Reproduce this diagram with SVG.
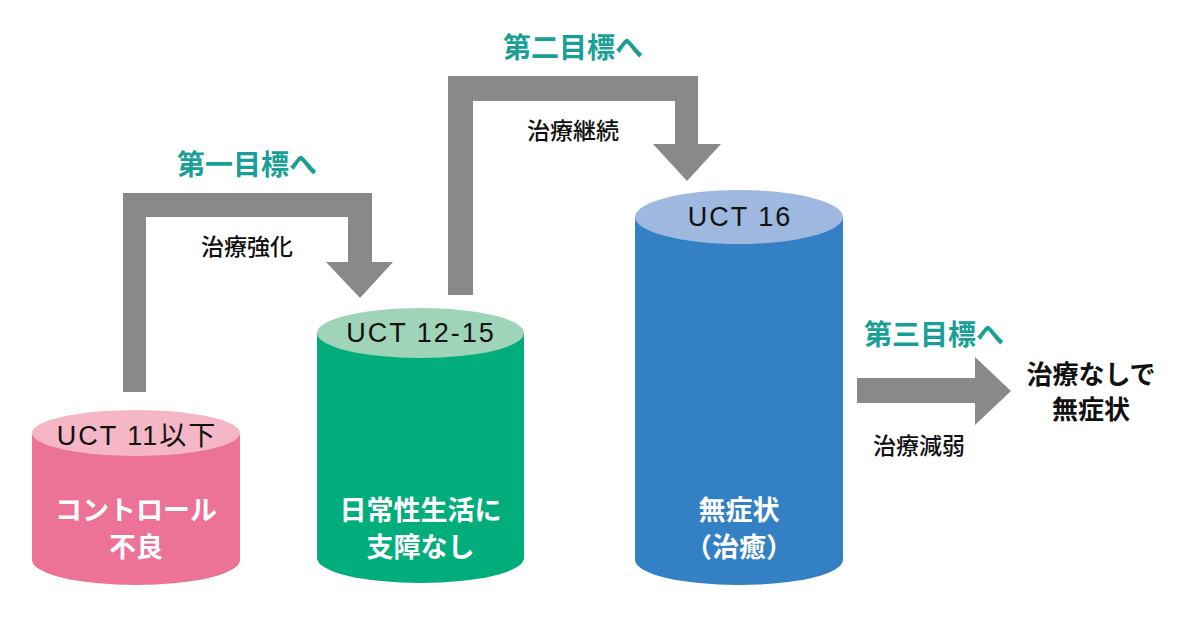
<svg xmlns="http://www.w3.org/2000/svg" width="1200" height="619" viewBox="0 0 1200 619">
<style>
.uct{font-family:"Liberation Sans","Noto Sans CJK JP",sans-serif;font-size:27px;fill:#111;text-anchor:middle;letter-spacing:2px}
.jp{font-family:"Noto Sans CJK JP",sans-serif;text-anchor:middle}
.body{font-size:27px;font-weight:700;fill:#fff}
.goal{font-size:28px;font-weight:700;fill:#1a9f96}
.act{font-size:23px;font-weight:500;fill:#111}
.res{font-size:26px;font-weight:700;fill:#111}
.arrow{fill:#898989}
</style>
<rect width="1200" height="619" fill="#fff"/>
<g id="connectors">
<polygon class="arrow" points="123,392 123,193 372,193 372,262 393,262 360,298 326,262 348,262 348,217 146,217 146,392"/>
<polygon class="arrow" points="448,295 448,76 698,76 698,144 721,144 687,181 653,144 675,144 675,101 473,101 473,295"/>
<polygon class="arrow" points="857,378 975,378 975,357 1011,391 975,425 975,403 857,403"/>
</g>
<g id="label-goal1"><text class="jp goal" x="247" y="175">第一目標へ</text></g>
<g id="label-act1"><text class="jp act" x="247" y="255">治療強化</text></g>
<g id="label-goal2"><text class="jp goal" x="573" y="58">第二目標へ</text></g>
<g id="label-act2"><text class="jp act" x="573" y="139">治療継続</text></g>
<g id="label-goal3"><text class="jp goal" x="934" y="345">第三目標へ</text></g>
<g id="label-act3"><text class="jp act" x="919" y="454">治療減弱</text></g>
<g id="cyl-pink">
<path d="M32,433 L32,560 A104,25 0 0 0 240,560 L240,433 Z" fill="#ec7298"/>
<ellipse cx="136" cy="433" rx="104" ry="23" fill="#f5b6c8"/>
<text class="uct" x="137" y="445">UCT 11以下</text>
<text class="jp body" x="136" y="520">コントロール</text>
<text class="jp body" x="136" y="557">不良</text>
</g>
<g id="cyl-green">
<path d="M317,333 L317,558 A103.5,25 0 0 0 524,558 L524,333 Z" fill="#00ad7b"/>
<ellipse cx="420.5" cy="333" rx="103.5" ry="25" fill="#a0d4b9"/>
<text class="uct" x="421" y="342">UCT 12-15</text>
<text class="jp body" x="420.5" y="520">日常性生活に</text>
<text class="jp body" x="420.5" y="557">支障なし</text>
</g>
<g id="cyl-blue">
<path d="M635,217 L635,560 A104,25 0 0 0 843,560 L843,217 Z" fill="#3480c4"/>
<ellipse cx="739" cy="217" rx="104" ry="27" fill="#9eb8e0"/>
<text class="uct" x="740" y="226">UCT 16</text>
<text class="jp body" x="739" y="520">無症状</text>
<text class="jp body" x="739" y="557">（治癒）</text>
</g>
<g id="result">
<text class="jp res" x="1091" y="384">治療なしで</text>
<text class="jp res" x="1091" y="419">無症状</text>
</g>
</svg>
